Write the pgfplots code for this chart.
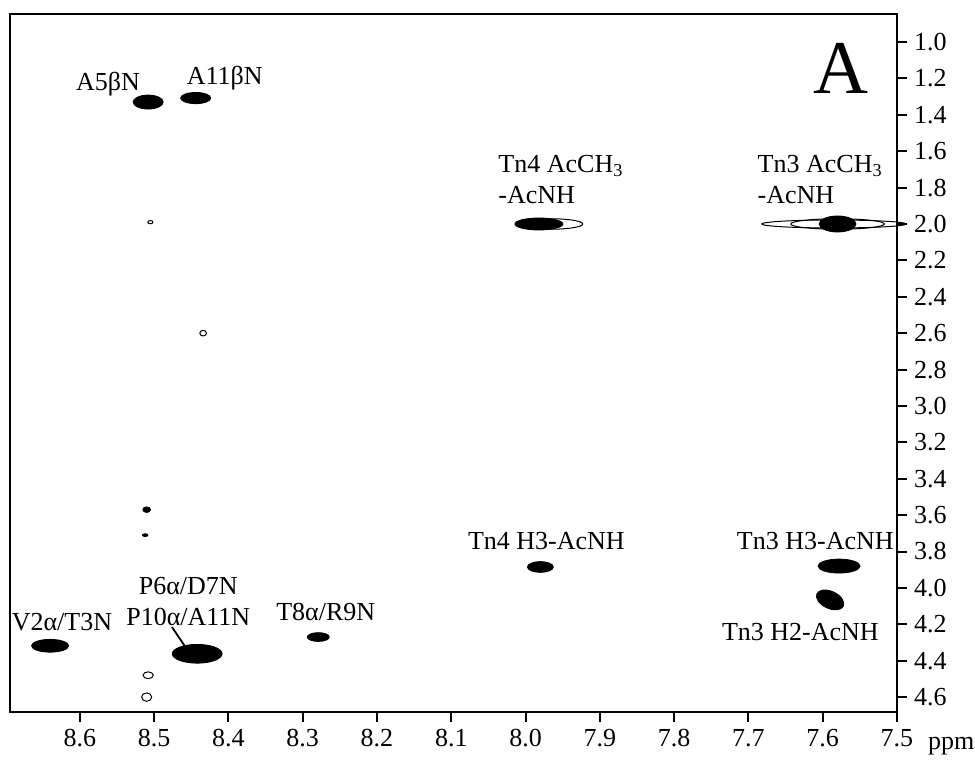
\documentclass[border=0pt]{standalone}
\usepackage{fontspec}
\setmainfont{Liberation Serif}
\usepackage{pgfplots}
\pgfplotsset{compat=1.18}
\newcommand{\fs}{\fontsize{13}{15.5}\selectfont}
% peak: x, y, radius (pt), xscale
\newcommand{\peak}[4]{\addplot[only marks, mark=*, mark size=#3, mark options={xscale=#4, fill=black, draw=black}] coordinates {(#1,#2)};}
\newcommand{\ring}[4]{\addplot[only marks, mark=o, mark size=#3, mark options={xscale=#4, draw=black, line width=0.5pt}] coordinates {(#1,#2)};}
\begin{document}
\begin{tikzpicture}
\begin{axis}[name=ax,
  scale only axis, width=443.5pt, height=349pt,
  x dir=reverse, y dir=reverse,
  xmin=7.5, xmax=8.694, ymin=0.846, ymax=4.682,
  xtick={7.5,7.6,...,8.6}, ytick={1.0,1.2,...,4.6},
  xtick pos=left, ytick pos=right,
  tick align=outside, major tick length=5pt,
  axis line style={line width=1pt}, tick style={line width=1pt, black},
  x tick label style={/pgf/number format/.cd, fixed, fixed zerofill, precision=1, assume math mode=true},
  y tick label style={/pgf/number format/.cd, fixed, fixed zerofill, precision=1, assume math mode=true},
  tick label style={font=\fs},
  xticklabel={\pgfmathprintnumber[assume math mode=true]{\tick}},
  yticklabel={\pgfmathprintnumber[assume math mode=true]{\tick}},
  clip=true,
]
\ring{7.585}{2.0}{2.0}{18}
\ring{7.58}{2.0}{2.6}{9}
\ring{7.965}{2.0}{2.6}{6}
\peak{7.58}{2.0}{4.0}{2.3}
\peak{7.982}{2.0}{3.0}{4.0}
\peak{8.508}{1.33}{3.5}{2.15}
\peak{8.444}{1.308}{2.8}{2.7}
\ring{8.505}{1.99}{0.8}{1.6}
\ring{8.434}{2.6}{1.4}{1.2}
\peak{8.51}{3.57}{1.4}{1.4}
\peak{8.512}{3.71}{0.7}{2.0}
\peak{7.98}{3.885}{2.7}{2.4}
\peak{7.578}{3.88}{3.5}{3.0}
\addplot[only marks, mark=*, mark size=4.3, mark options={rotate=-25, xscale=1.7, fill=black}] coordinates {(7.59,4.066)};
\peak{8.640}{4.318}{3.2}{2.9}
\peak{8.442}{4.362}{4.7}{2.65}
\peak{8.279}{4.27}{2.2}{2.5}
\ring{8.508}{4.48}{1.7}{1.5}
\ring{8.51}{4.6}{2.1}{1.2}
\addplot[black, line width=0.9pt] coordinates {(8.476,4.215) (8.457,4.33)};
\node[font=\fs] at (axis cs:8.562,1.231) {A5βN};
\node[font=\fs] at (axis cs:8.405,1.198) {A11βN};
\node[font=\fs, anchor=north west, align=left, inner sep=0pt] at (axis cs:8.037,1.62) {Tn4 AcCH\textsubscript{3}\\-AcNH};
\node[font=\fs, anchor=north west, align=left, inner sep=0pt] at (axis cs:7.688,1.62) {Tn3 AcCH\textsubscript{3}\\-AcNH};
\node[font=\fs] at (axis cs:7.972,3.742) {Tn4 H3-AcNH};
\node[font=\fs] at (axis cs:7.610,3.742) {Tn3 H3-AcNH};
\node[font=\fs] at (axis cs:7.630,4.242) {Tn3 H2-AcNH};
\node[font=\fs] at (axis cs:8.624,4.187) {V2α/T3N};
\node[font=\fs, align=center] at (axis cs:8.454,4.077) {P6α/D7N\\P10α/A11N};
\node[font=\fs] at (axis cs:8.269,4.132) {T8α/R9N};
\node[font=\fontsize{38}{40}\selectfont] at (axis cs:7.576,1.143) {A};
\end{axis}
\node[font=\fs, anchor=base west] at ([xshift=12pt, yshift=-19pt]ax.south east) {ppm};
\pgfresetboundingbox
\path[use as bounding box] ([xshift=-5pt,yshift=-24.5pt]ax.south west) rectangle ([xshift=39pt,yshift=7pt]ax.north east);
\end{tikzpicture}
\end{document}
